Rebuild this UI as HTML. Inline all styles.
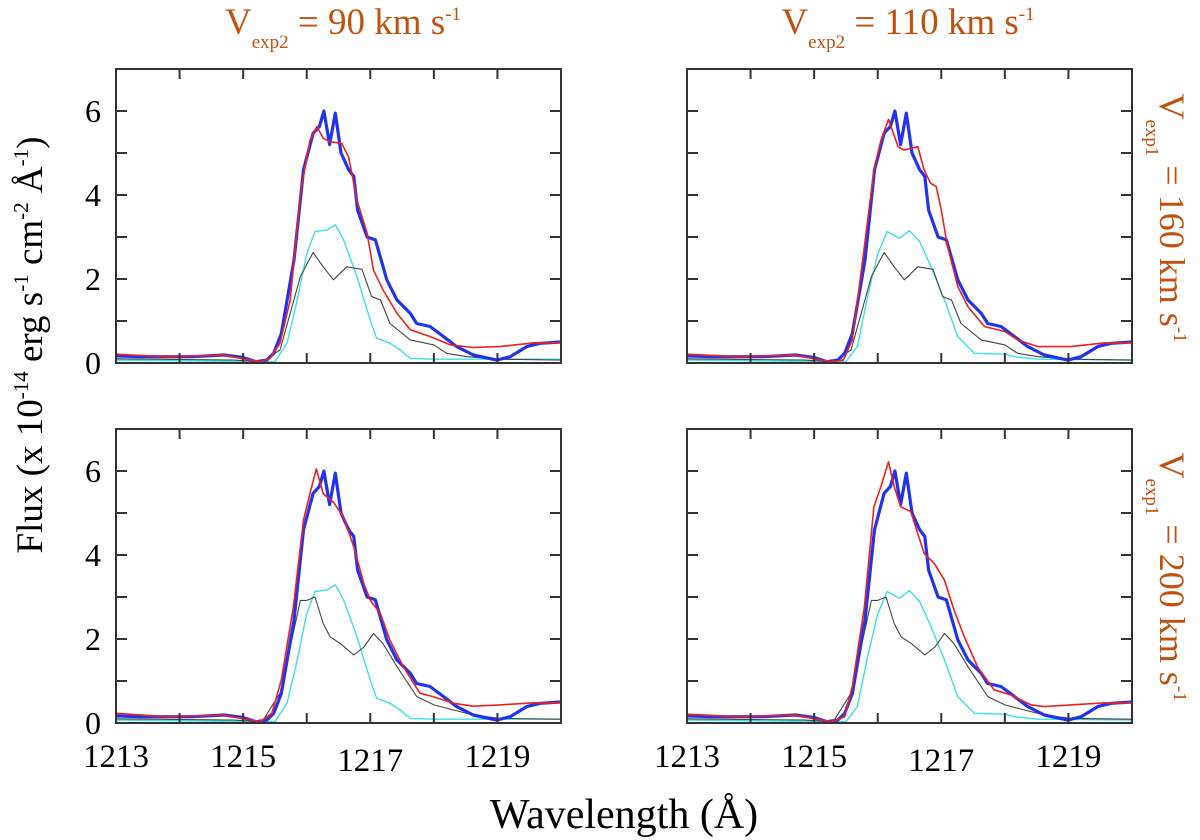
<!DOCTYPE html>
<html><head><meta charset="utf-8">
<style>
html,body{margin:0;padding:0;background:#fff;}
svg{display:block;}
text{font-family:"Liberation Serif","DejaVu Serif",serif;}
</style></head>
<body>
<svg id="chart" width="1200" height="840" viewBox="0 0 1200 840" xmlns="http://www.w3.org/2000/svg">
<g id="plots"></g>
<text x="343" y="34" text-anchor="middle" fill="#c0520f" font-size="37">V<tspan font-size="19" dy="14">exp2</tspan><tspan dy="-14"> = 90  km s</tspan><tspan font-size="19" dy="-14">-1</tspan></text>
<text x="908" y="34" text-anchor="middle" fill="#c0520f" font-size="37">V<tspan font-size="19" dy="14">exp2</tspan><tspan dy="-14"> = 110  km s</tspan><tspan font-size="19" dy="-14">-1</tspan></text>
<text transform="translate(1160,218) rotate(90)" text-anchor="middle" fill="#c0520f" font-size="36">V<tspan font-size="19" dy="14">exp1</tspan><tspan dy="-14"> = 160  km s</tspan><tspan font-size="19" dy="-14">-1</tspan></text>
<text transform="translate(1160,577) rotate(90)" text-anchor="middle" fill="#c0520f" font-size="36">V<tspan font-size="19" dy="14">exp1</tspan><tspan dy="-14"> = 200  km s</tspan><tspan font-size="19" dy="-14">-1</tspan></text>
<text transform="translate(42,345) rotate(-90)" text-anchor="middle" fill="#000" font-size="37">Flux  (x 10<tspan font-size="21" dy="-14">-14</tspan><tspan dy="14"> erg s</tspan><tspan font-size="21" dy="-14">-1</tspan><tspan dy="14"> cm</tspan><tspan font-size="21" dy="-14">-2</tspan><tspan dy="14"> Å</tspan><tspan font-size="21" dy="-14">-1</tspan><tspan dy="14">)</tspan></text>
<text x="624" y="828" text-anchor="middle" fill="#000" font-size="42">Wavelength (Å)</text>
</svg>
<script>
const xTicks = [1214,1215,1216,1217,1218,1219];
const xLabels = [1213,1215,1217,1219];
const yTicks = [1,2,3,4,5,6];
const yLabels = [0,2,4,6];
const xMin = 1213, xMax = 1220, yMin = 0, yMax = 7;

const blueX = [1213.0,1213.38,1214.2,1214.7,1215.0,1215.2,1215.37,1215.48,1215.6,1215.8,1215.95,1216.1,1216.2,1216.27,1216.36,1216.45,1216.54,1216.66,1216.74,1216.8,1216.95,1217.08,1217.26,1217.42,1217.63,1217.73,1217.94,1218.15,1218.36,1218.62,1218.99,1219.2,1219.46,1219.67,1220.0];
const blueY = [0.17,0.15,0.15,0.19,0.13,0.03,0.07,0.23,0.7,2.45,4.6,5.47,5.63,6.0,5.2,5.95,5.0,4.6,4.44,3.64,3.0,2.93,1.98,1.5,1.18,0.94,0.87,0.63,0.39,0.19,0.07,0.15,0.39,0.47,0.5];

const red1X = [1213.0,1213.8,1214.7,1215.0,1215.27,1215.42,1215.58,1215.74,1215.9,1216.05,1216.16,1216.26,1216.37,1216.55,1216.66,1216.79,1216.95,1217.05,1217.2,1217.42,1217.63,1217.94,1218.26,1218.62,1219.04,1219.57,1220.0];
const red1Y = [0.21,0.15,0.19,0.1,0.03,0.11,0.47,1.5,4.04,5.3,5.63,5.35,5.27,5.23,4.9,3.88,3.09,2.21,1.74,1.18,0.79,0.63,0.43,0.37,0.39,0.48,0.48];
const red2X = [1213.0,1213.8,1214.7,1215.0,1215.27,1215.45,1215.6,1215.79,1215.95,1216.05,1216.15,1216.26,1216.42,1216.58,1216.74,1216.9,1217.0,1217.16,1217.31,1217.52,1217.78,1217.98,1218.31,1218.62,1219.04,1219.57,1220.0];
const red2Y = [0.23,0.15,0.19,0.1,0.03,0.23,1.02,2.77,4.83,5.46,6.05,5.46,5.26,4.9,4.19,3.32,2.92,2.6,1.97,1.34,0.71,0.63,0.47,0.4,0.43,0.48,0.48];
const red3X = [1213.0,1213.8,1214.7,1215.0,1215.27,1215.46,1215.6,1215.79,1215.94,1216.05,1216.17,1216.32,1216.41,1216.63,1216.73,1216.83,1216.92,1217.0,1217.1,1217.26,1217.42,1217.68,1218.0,1218.2,1218.52,1219.04,1219.57,1220.0];
const red3Y = [0.21,0.15,0.19,0.1,0.03,0.07,0.55,2.77,4.6,5.3,5.8,5.15,5.07,5.15,4.6,4.28,4.2,3.64,2.77,1.82,1.34,0.87,0.75,0.55,0.39,0.39,0.48,0.48];
const red4X = [1213.0,1213.8,1214.7,1215.0,1215.27,1215.48,1215.6,1215.79,1215.94,1216.05,1216.17,1216.26,1216.36,1216.52,1216.73,1216.89,1217.05,1217.2,1217.36,1217.57,1217.83,1218.09,1218.41,1218.62,1219.04,1219.57,1220.0];
const red4Y = [0.21,0.15,0.19,0.1,0.03,0.15,0.87,2.77,5.15,5.63,6.22,5.63,5.15,5.03,4.04,3.8,3.4,2.69,2.06,1.34,0.79,0.67,0.43,0.39,0.43,0.48,0.48];

const black1X = [1213.0,1214.85,1215.3,1215.58,1215.74,1215.9,1216.1,1216.26,1216.42,1216.63,1216.87,1217.02,1217.16,1217.31,1217.63,1218.0,1218.2,1218.52,1219.04,1220.0];
const black1Y = [0.1,0.07,0.03,0.31,1.18,2.06,2.63,2.29,1.98,2.29,2.23,1.58,1.5,0.94,0.55,0.43,0.23,0.15,0.09,0.07];
const black2X = [1213.0,1214.85,1215.3,1215.58,1215.74,1215.9,1216.0,1216.13,1216.26,1216.37,1216.53,1216.74,1216.9,1217.05,1217.2,1217.42,1217.73,1218.0,1218.31,1218.62,1219.04,1220.0];
const black2Y = [0.1,0.07,0.03,0.71,1.81,2.92,2.92,3.0,2.37,2.05,1.89,1.62,1.81,2.13,1.89,1.34,0.63,0.43,0.31,0.19,0.11,0.09];

const cyan1X = [1213.0,1215.2,1215.5,1215.69,1215.84,1216.0,1216.13,1216.32,1216.45,1216.58,1216.79,1217.0,1217.1,1217.31,1217.47,1217.63,1218.0,1220.0];
const cyan1Y = [0.07,0.03,0.03,0.47,1.42,2.6,3.13,3.17,3.29,2.93,2.06,1.02,0.59,0.47,0.31,0.11,0.09,0.09];
const cyan2X = [1213.0,1215.2,1215.5,1215.68,1215.83,1216.0,1216.15,1216.34,1216.5,1216.66,1216.84,1217.05,1217.26,1217.52,1218.0,1218.15,1218.52,1220.0];
const cyan2Y = [0.07,0.03,0.03,0.39,1.5,2.6,3.13,2.97,3.15,2.89,2.29,1.5,0.63,0.23,0.21,0.15,0.09,0.07];

const panels = [
  {name:'panel-top-left', left:116, top:69, red:[red1X,red1Y], black:[black1X,black1Y], cyan:[cyan1X,cyan1Y], labels:false, yl:true},
  {name:'panel-top-right', left:687, top:69, red:[red3X,red3Y], black:[black1X,black1Y], cyan:[cyan2X,cyan2Y], labels:false, yl:false},
  {name:'panel-bottom-left', left:116, top:429, red:[red2X,red2Y], black:[black2X,black2Y], cyan:[cyan1X,cyan1Y], labels:true, yl:true},
  {name:'panel-bottom-right', left:687, top:429, red:[red4X,red4Y], black:[black2X,black2Y], cyan:[cyan2X,cyan2Y], labels:true, yl:false}
];
const W = 445, H = 294;
const NS = 'http://www.w3.org/2000/svg';
const root = document.getElementById('plots');
function mk(tag, attrs, parent){const e=document.createElementNS(NS,tag);for(const k in attrs)e.setAttribute(k,attrs[k]);parent.appendChild(e);return e;}

panels.forEach(p=>{
  const sx = v => p.left + (v - xMin) / (xMax - xMin) * W;
  const sy = v => p.top + H - (v - yMin) / (yMax - yMin) * H;
  const g = mk('g',{},root);
  
  
  const line = (xs, ys, color, w, nm) => {
    const pts = xs.map((x,i)=>sx(x).toFixed(1)+','+sy(ys[i]).toFixed(1)).join(' ');
    const pl = mk('polyline',{points:pts,fill:'none',stroke:color,'stroke-width':w,'stroke-linejoin':'round'},g);
    
    
  };
  line(p.cyan[0], p.cyan[1], '#3ee0e0', 1.4, 'cyan-model-line');
  line(p.black[0], p.black[1], '#444444', 1.1, 'black-model-line');
  line(blueX, blueY, '#2233ee', 3.2, 'observed-blue-line');
  line(p.red[0], p.red[1], '#ee2020', 1.6, 'red-model-line');
  const fr = mk('rect',{x:p.left,y:p.top,width:W,height:H,fill:'none',stroke:'#333','stroke-width':2},g);
  
  
  xTicks.forEach(t=>{
    mk('line',{x1:sx(t),x2:sx(t),y1:p.top,y2:p.top+10,stroke:'#333','stroke-width':2},g);
    mk('line',{x1:sx(t),x2:sx(t),y1:p.top+H,y2:p.top+H-10,stroke:'#333','stroke-width':2},g);
  });
  yTicks.forEach(t=>{
    mk('line',{x1:p.left,x2:p.left+11,y1:sy(t),y2:sy(t),stroke:'#333','stroke-width':2},g);
    mk('line',{x1:p.left+W,x2:p.left+W-11,y1:sy(t),y2:sy(t),stroke:'#333','stroke-width':2},g);
  });
  if(p.yl){
    yLabels.forEach(t=>{
      const tx = mk('text',{x:p.left-15,y:sy(t)+11,'text-anchor':'end','font-size':32,fill:'#000'},g);
      
      
      tx.textContent = t;
    });
  }
  if(p.labels){
    xLabels.forEach((t,i)=>{
      const tx = mk('text',{x:sx(t),y:p.top+H+(i===2?48:44),'text-anchor':'middle','font-size':33,fill:'#000'},g);
      
      
      tx.textContent = t;
    });
  }
});
</script>
</body></html>
